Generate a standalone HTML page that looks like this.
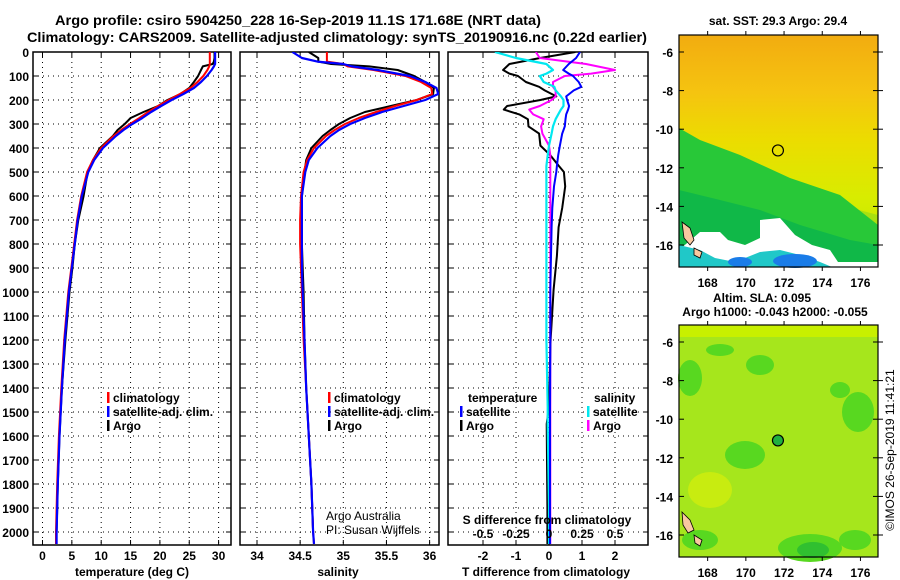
<!DOCTYPE html>
<html><head><meta charset="utf-8">
<style>
html,body{margin:0;padding:0;background:#fff;}
svg{display:block;font-family:"Liberation Sans",sans-serif;font-weight:bold;}
text{fill:#000;}
</style></head>
<body>
<svg id="chart" width="900" height="580" viewBox="0 0 900 580" xmlns="http://www.w3.org/2000/svg">
<text x="298" y="25" font-size="14" text-anchor="middle" textLength="486" lengthAdjust="spacingAndGlyphs">Argo profile: csiro 5904250_228 16-Sep-2019 11.1S 171.68E (NRT data)</text>
<text x="337" y="42" font-size="14" text-anchor="middle" textLength="620" lengthAdjust="spacingAndGlyphs">Climatology: CARS2009. Satellite-adjusted climatology: synTS_20190916.nc (0.22d earlier)</text>
<g id="panels"></g>
<g id="maps"></g>
<text transform="translate(894,450) rotate(-90)" font-size="12" font-weight="normal" text-anchor="middle">©IMOS 26-Sep-2019 11:41:21</text>
</svg>
<script>
// ---------- DATA ----------
const depthTicks = [0,100,200,300,400,500,600,700,800,900,1000,1100,1200,1300,1400,1500,1600,1700,1800,1900,2000];
const tempTicks = [0,5,10,15,20,25,30];
const salTicks = [34,34.5,35,35.5,36];
const tdiffTicks = [-2,-1,0,1,2];
const sdiffTicks = [-0.5,-0.25,0,0.25,0.5];

const profDepths = [0,25,40,50,60,75,100,125,150,175,200,225,250,275,300,325,350,400,450,500,600,700,800,900,1000,1200,1400,1600,1800,2000,2050];
const tempClim = [28.5,28.5,28.5,28.5,28.4,28.1,27.4,26.4,25.2,23.4,21.5,19.7,18.0,16.5,14.9,13.4,12.1,10.0,8.6,7.6,6.6,5.9,5.4,4.9,4.4,3.7,3.2,2.8,2.5,2.3,2.3];
const tempSat = [29.4,29.4,29.4,29.4,29.2,28.8,28.0,27.0,25.8,24.0,22.0,20.2,18.5,17.0,15.3,13.8,12.5,10.3,8.8,7.8,6.7,6.0,5.5,5.0,4.5,3.8,3.3,2.9,2.6,2.4,2.4];
const argoDepths = [0,25,40,50,60,75,100,125,150,175,200,225,250,275,300,325,350,400,450,500,600,700,800,900,1000,1200,1400,1600,1800,2000];
const tempArgo = [29.3,29.3,29.2,29.0,27.3,27.0,26.5,25.8,25.0,23.5,21.3,19.7,17.2,15.0,14.0,12.8,12.0,9.8,8.6,7.7,7.0,6.1,5.5,5.1,4.6,3.9,3.3,2.9,2.6,2.4];

const salClim = [34.81,34.81,34.81,35.0,35.05,35.35,35.72,35.9,36.02,36.03,35.85,35.6,35.38,35.18,35.02,34.9,34.8,34.66,34.58,34.54,34.51,34.5,34.5,34.51,34.52,34.54,34.57,34.6,34.63,34.65,34.66];
const salSat = [34.41,34.52,34.7,35.0,35.1,35.4,35.77,35.95,36.08,36.1,35.95,35.7,35.45,35.25,35.08,34.95,34.85,34.7,34.6,34.56,34.52,34.52,34.52,34.52,34.53,34.55,34.57,34.6,34.63,34.65,34.66];
const salArgo = [34.6,34.71,34.71,34.86,35.3,35.63,35.82,35.95,36.05,36.04,35.85,35.55,35.25,35.08,34.95,34.85,34.76,34.63,34.57,34.55,34.52,34.52,34.52,34.53,34.54,34.55,34.57,34.6,34.63,34.65];

const diffDepths = [0,25,50,75,90,100,125,145,160,185,200,225,240,260,280,310,340,390,430,475,500,560,650,730,850,990,1200,1480,1550,1900,2050];
const tdiffSat = [0.94,0.82,0.6,0.43,0.6,0.73,0.9,0.98,0.75,0.52,0.55,0.61,0.58,0.52,0.5,0.48,0.4,0.33,0.28,0.24,0.22,0.15,0.1,0.08,0.06,0.04,0.04,0.03,0.03,0.03,0.03];
const tdiffArgo = [0.8,-0.27,-1.2,-1.39,-1.2,-0.94,-0.7,-0.3,-0.13,0.22,-0.26,-1.27,-1.37,-0.9,-0.64,-0.62,-0.3,-0.26,0.04,0.3,0.45,0.49,0.4,0.29,0.24,0.14,0.05,0.0,-0.07,-0.05,-0.05];
const sdiffSat = [-0.41,-0.25,-0.02,0.03,-0.02,-0.07,-0.04,0.04,0.05,0.09,0.11,0.11,0.09,0.07,0.05,0.03,0.02,0.0,-0.01,-0.02,-0.02,-0.02,-0.02,-0.02,-0.02,-0.02,-0.02,-0.01,-0.01,0.0,0.0];
const sdiffArgo = [-0.1,-0.07,0.28,0.5,0.32,0.12,0.03,0.03,0.05,0.05,0.02,-0.07,-0.15,-0.12,-0.04,-0.06,-0.05,0.0,0.01,0.01,0.01,0.01,0.01,0.01,0.01,0.01,0.01,0.01,0.01,0.01,0.01];

const mapLatTicks = [-6,-8,-10,-12,-14,-16];
const mapLonTicks = [168,170,172,174,176];
const argoLat = -11.1, argoLon = 171.68;

// ---------- HELPERS ----------
const NS = "http://www.w3.org/2000/svg";
function mk(parent, tag, attrs, txt){
  const e = document.createElementNS(NS, tag);
  for (const k in attrs) e.setAttribute(k, attrs[k]);
  if (txt !== undefined) e.textContent = txt;
  parent.appendChild(e);
  return e;
}
const yTop = 52, yBot = 545;
const yD = d => yTop + d*0.24;

const panels = document.getElementById('panels');

function frame(g, x0, x1, xTicks, xf, name){
  // grid
  depthTicks.forEach(d => {
    const l = mk(g,'line',{x1:x0,x2:x1,y1:yD(d),y2:yD(d),stroke:'#000','stroke-width':1,'stroke-dasharray':'1,4'});
    
    
    mk(g,'line',{x1:x0,x2:x0+5,y1:yD(d),y2:yD(d),stroke:'#000'});
    mk(g,'line',{x1:x1-5,x2:x1,y1:yD(d),y2:yD(d),stroke:'#000'});
  });
  xTicks.forEach(v => {
    const x = xf(v);
    const l = mk(g,'line',{x1:x,x2:x,y1:yTop,y2:yBot,stroke:'#000','stroke-width':1,'stroke-dasharray':'1,4'});
    
    
    mk(g,'line',{x1:x,x2:x,y1:yTop,y2:yTop+5,stroke:'#000'});
    mk(g,'line',{x1:x,x2:x,y1:yBot-5,y2:yBot,stroke:'#000'});
  });
  const r = mk(g,'rect',{x:x0,y:yTop,width:x1-x0,height:yBot-yTop,fill:'none',stroke:'#000','stroke-width':1.5});
  
  
}
function xLabels(g, ticks, xf, y, fmt){
  ticks.forEach(v => {
    const t = mk(g,'text',{x:xf(v),y:y,'font-size':12,'text-anchor':'middle'}, fmt ? fmt(v) : String(v));
    
    
  });
}
function line(g, depths, vals, xf, color, w, name){
  const pts = depths.map((d,i) => xf(vals[i]).toFixed(1)+','+yD(d).toFixed(1)).join(' ');
  const p = mk(g,'polyline',{points:pts,fill:'none',stroke:color,'stroke-width':w,'stroke-linejoin':'round'});
  
  
}
function legend(g, x, y, color, label, name){
  mk(g,'rect',{x:x,y:y-10,width:2.5,height:11,fill:color});
  const t = mk(g,'text',{x:x+6,y:y,'font-size':12}, label);
  
  
}

// ---------- PANEL 1: temperature ----------
const g1 = mk(panels,'g',{});


const xT = v => 42.5 + v*5.87;
frame(g1, 33, 231, tempTicks, xT, 'temperature');
depthTicks.forEach(d => {
  const t = mk(g1,'text',{x:29,y:yD(d)+5,'font-size':12,'text-anchor':'end'}, String(d));
  
  
});
xLabels(g1, tempTicks, xT, 560);
let at = mk(g1,'text',{x:132,y:576,'font-size':12,'text-anchor':'middle'},'temperature (deg C)');
 
line(g1, argoDepths, tempArgo, xT, '#000', 2, 'temperature-argo-line');
line(g1, profDepths, tempClim, xT, '#f00', 2, 'temperature-climatology-line');
line(g1, profDepths, tempSat, xT, '#0000ff', 2.2, 'temperature-satellite-line');
legend(g1, 107, 402, '#f00', 'climatology', 'legend-climatology');
legend(g1, 107, 416, '#0000ff', 'satellite-adj. clim.', 'legend-satellite');
legend(g1, 107, 430, '#000', 'Argo', 'legend-argo');

// ---------- PANEL 2: salinity ----------
const g2 = mk(panels,'g',{});


const xS = v => 257 + (v-34)*86.3;
frame(g2, 240, 439, salTicks, xS, 'salinity');
xLabels(g2, salTicks, xS, 560);
at = mk(g2,'text',{x:338,y:576,'font-size':12,'text-anchor':'middle'},'salinity');
 
const svgClip = mk(g2,'clipPath',{id:'c2'}); mk(svgClip,'rect',{x:240,y:yTop,width:199,height:yBot-yTop});
const g2c = mk(g2,'g',{'clip-path':'url(#c2)'});
line(g2c, argoDepths, salArgo, xS, '#000', 2, 'salinity-argo-line');
line(g2c, profDepths, salClim, xS, '#f00', 2, 'salinity-climatology-line');
line(g2c, profDepths, salSat, xS, '#0000ff', 2.2, 'salinity-satellite-line');
legend(g2, 328, 402, '#f00', 'climatology', 'legend-climatology');
legend(g2, 328, 416, '#0000ff', 'satellite-adj. clim.', 'legend-satellite');
legend(g2, 328, 430, '#000', 'Argo', 'legend-argo');
let cr = mk(g2,'text',{x:326,y:520,'font-size':12,'font-weight':'normal'},'Argo Australia');
 
cr = mk(g2,'text',{x:326,y:534,'font-size':12,'font-weight':'normal'},'PI: Susan Wijffels');
 

// ---------- PANEL 3: differences ----------
const g3 = mk(panels,'g',{});


const xTd = v => 549 + v*33;
const xSd = v => 549 + v*132;
frame(g3, 448, 648, tdiffTicks, xTd, 'difference');
xLabels(g3, tdiffTicks, xTd, 560);
at = mk(g3,'text',{x:546,y:576,'font-size':12,'text-anchor':'middle'},'T difference from climatology');
 
const c3 = mk(g3,'clipPath',{id:'c3'}); mk(c3,'rect',{x:448,y:yTop,width:200,height:yBot-yTop});
const g3c = mk(g3,'g',{'clip-path':'url(#c3)'});
line(g3c, diffDepths, tdiffArgo, xTd, '#000', 2, 'tdiff-argo-line');
line(g3c, diffDepths, sdiffArgo, xSd, '#ff00ff', 2, 'sdiff-argo-line');
line(g3c, diffDepths, sdiffSat, xSd, '#00e8f0', 2.2, 'sdiff-satellite-line');
line(g3c, diffDepths, tdiffSat, xTd, '#0000ff', 2, 'tdiff-satellite-line');
let lt = mk(g3,'text',{x:468,y:402,'font-size':12},'temperature');
 
lt = mk(g3,'text',{x:594,y:402,'font-size':12},'salinity');
 
legend(g3, 460, 416, '#0000ff', 'satellite', 'legend-t-satellite');
legend(g3, 460, 430, '#000', 'Argo', 'legend-t-argo');
legend(g3, 587, 416, '#00e8f0', 'satellite', 'legend-s-satellite');
legend(g3, 587, 430, '#ff00ff', 'Argo', 'legend-s-argo');
lt = mk(g3,'text',{x:547,y:524,'font-size':12,'text-anchor':'middle'},'S difference from climatology');
 
xLabels(g3, sdiffTicks, xSd, 538);

// ---------- MAPS ----------
const maps = document.getElementById('maps');
const mx0 = 679, mx1 = 878;
const lonX = lon => 679 + (lon-166.5)*19.1;
function latY(top){ return lat => top + 17 + (-6-lat)*19.3; }

function mapFrame(g, top, bot, name){
  const ly = latY(top);
  mapLatTicks.forEach(la => {
    mk(g,'line',{x1:mx0,x2:mx0+5,y1:ly(la),y2:ly(la),stroke:'#000'});
    mk(g,'line',{x1:mx1-5,x2:mx1,y1:ly(la),y2:ly(la),stroke:'#000'});
    mk(g,'line',{x1:mx1,x2:mx1+5,y1:ly(la),y2:ly(la),stroke:'#000'});
    const t = mk(g,'text',{x:673,y:ly(la)+5,'font-size':12,'text-anchor':'end'}, String(la));
     
  });
  mapLonTicks.forEach(lo => {
    mk(g,'line',{x1:lonX(lo),x2:lonX(lo),y1:top,y2:top-4,stroke:'#000'});
    mk(g,'line',{x1:lonX(lo),x2:lonX(lo),y1:bot,y2:bot+4,stroke:'#000'});
    const t = mk(g,'text',{x:lonX(lo),y:bot+20,'font-size':12,'text-anchor':'middle'}, String(lo));
     
  });
  const r = mk(g,'rect',{x:mx0,y:top,width:mx1-mx0,height:bot-top,fill:'none',stroke:'#000','stroke-width':1.2});
   
}

// SST map
const gm1 = mk(maps,'g',{});


const defs = mk(gm1,'defs',{});
const lg = mk(defs,'linearGradient',{id:'sstg',x1:0,y1:0,x2:0,y2:1});
mk(lg,'stop',{offset:'0','stop-color':'#f2ac10'});
mk(lg,'stop',{offset:'0.25','stop-color':'#f5c410'});
mk(lg,'stop',{offset:'0.45','stop-color':'#ecdc00'});
mk(lg,'stop',{offset:'0.7','stop-color':'#d8ec00'});
mk(lg,'stop',{offset:'1','stop-color':'#b8e800'});
mk(gm1,'rect',{x:mx0,y:35,width:199,height:232,fill:'url(#sstg)'});
mk(gm1,'polygon',{points:'679,150 700,160 740,170 790,190 840,205 878,215 878,267 679,267',fill:'#a8e010'});
mk(gm1,'polygon',{points:'679,128 700,140 740,155 790,178 840,195 878,225 878,267 679,267',fill:'#28c838'});
mk(gm1,'polygon',{points:'679,190 720,200 760,210 800,225 850,240 878,245 878,267 679,267',fill:'#10b848'});
mk(gm1,'polygon',{points:'700,232 720,232 728,240 745,245 760,238 760,220 780,218 795,235 812,245 830,250 838,262 878,262 878,267 679,267 679,250',fill:'#ffffff'});
mk(gm1,'polygon',{points:'679,245 700,250 715,258 735,262 760,252 780,250 800,255 820,262 832,267 679,267',fill:'#20c8c8'});
mk(gm1,'ellipse',{cx:795,cy:261,rx:22,ry:7,fill:'#1a7ce8'});
mk(gm1,'ellipse',{cx:740,cy:262,rx:12,ry:5,fill:'#1a7ce8'});
mk(gm1,'polygon',{points:'682,222 690,228 694,240 690,245 684,238',fill:'#f8c8a0',stroke:'#000','stroke-width':0.8});
mk(gm1,'polygon',{points:'694,248 702,252 700,258 694,255',fill:'#f8c8a0',stroke:'#000','stroke-width':0.8});
const c1 = mk(gm1,'circle',{cx:lonX(argoLon),cy:latY(35)(argoLat),r:5.5,fill:'none',stroke:'#000','stroke-width':1.2});
 
mapFrame(gm1, 35, 267, 'sst-map');
let mt = mk(gm1,'text',{x:778,y:25,'font-size':12,'text-anchor':'middle'},'sat. SST: 29.3 Argo: 29.4');
 

// SLA map
const gm2 = mk(maps,'g',{});


mk(gm2,'rect',{x:mx0,y:325,width:199,height:232,fill:'#a6e61c'});
mk(gm2,'rect',{x:mx0,y:325,width:199,height:12,fill:'#c8f000'});
[[690,378,12,18],[745,455,20,14],[858,412,16,20],[810,548,32,14],[760,365,14,10],[700,540,18,10],[855,540,16,10],[840,390,10,8],[720,350,14,6]].forEach(e=>{
  mk(gm2,'ellipse',{cx:e[0],cy:e[1],rx:e[2],ry:e[3],fill:'#58d820'});
});
mk(gm2,'ellipse',{cx:813,cy:550,rx:16,ry:8,fill:'#30c030'});
mk(gm2,'ellipse',{cx:710,cy:490,rx:22,ry:18,fill:'#c8ec10'});
mk(gm2,'polygon',{points:'682,512 690,520 694,530 688,533 683,525',fill:'#f8c8a0',stroke:'#000','stroke-width':0.8});
mk(gm2,'polygon',{points:'694,535 702,540 700,546 695,543',fill:'#f8c8a0',stroke:'#000','stroke-width':0.8});
const c2 = mk(gm2,'circle',{cx:lonX(argoLon),cy:latY(325)(argoLat),r:5.5,fill:'#20b040',stroke:'#000','stroke-width':1.2});
 
mapFrame(gm2, 325, 557, 'sla-map');
mt = mk(gm2,'text',{x:762,y:302,'font-size':12,'text-anchor':'middle'},'Altim. SLA: 0.095');
 
mt = mk(gm2,'text',{x:775,y:316,'font-size':12,'text-anchor':'middle'},'Argo h1000: -0.043 h2000: -0.055');
 
</script>
</body></html>
